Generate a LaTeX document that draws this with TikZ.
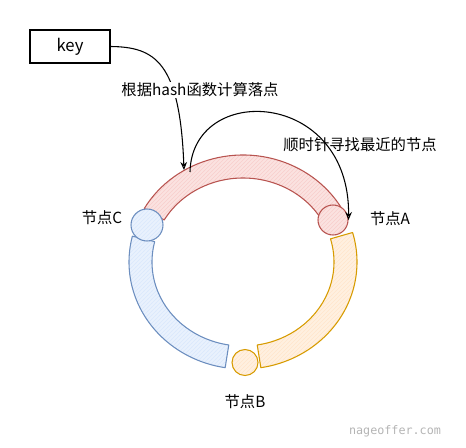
\documentclass[tikz,border=0pt]{standalone}
\usepackage{fontspec}
\setmainfont{Noto Sans CJK SC}
\setmonofont{DejaVu Sans Mono}
\usetikzlibrary{arrows.meta,calc,patterns}
\definecolor{redline}{HTML}{B85450}
\definecolor{redfill}{HTML}{F8CECC}
\definecolor{yellowline}{HTML}{D79B00}
\definecolor{yellowfill}{HTML}{FFE6CC}
\definecolor{blueline}{HTML}{6C8EBF}
\definecolor{bluefill}{HTML}{DAE8FC}
\definecolor{marktext}{HTML}{B4B4B4}

\begin{document}
\begin{tikzpicture}[
    x=0.75pt, y=0.75pt,
    every node/.style={font=\fontsize{11.5}{13}\selectfont},
    keybox/.style={rectangle, draw, line width=1.1pt, minimum width=60pt, minimum height=24.75pt},
    band/.style={draw=#1line, thick, line join=round, preaction={fill=#1fill!60}, pattern=north east lines, pattern color=#1fill},
    peer/.style={circle, draw=#1line, thick, minimum size=22.5pt, inner sep=0pt, preaction={fill=#1fill!60}, pattern=north east lines, pattern color=#1fill},
    hop/.style={draw, thick, -{Stealth[open, length=6pt, width=5pt]}},
    tag/.style={inner sep=1pt}
]
    \useasboundingbox (0,0) rectangle (466,447);

    % Ring centre
    \coordinate (O) at (243,185);

    % Ring segments
    \draw[band=red] ($(O)+(150:114 and 107)$) arc[start angle=150, end angle=28, x radius=114, y radius=107]
        -- ($(O)+(28:91 and 84)$) arc[start angle=28, end angle=150, x radius=91, y radius=84] -- cycle;
    \draw[band=yellow] ($(O)+(16:114 and 107)$) arc[start angle=16, end angle=-81, x radius=114, y radius=107]
        -- ($(O)+(-81:91 and 84)$) arc[start angle=-81, end angle=16, x radius=91, y radius=84] -- cycle;
    \draw[band=blue] ($(O)+(166:114 and 107)$) arc[start angle=166, end angle=261, x radius=114, y radius=107]
        -- ($(O)+(261:91 and 84)$) arc[start angle=261, end angle=166, x radius=91, y radius=84] -- cycle;

    % Nodes on the ring
    \node[peer=red] (peerA) at (333,227) {};
    \node[peer=yellow, minimum size=19.5pt] (peerB) at (245,84.5) {};
    \node[peer=blue, minimum size=24pt] (peerC) at (147,222) {};

    \node[tag] (tagA) at (390,228) {节点A};
    \node[tag] (tagB) at (245,45) {节点B};
    \node[tag] (tagC) at (102,229) {节点C};

    % Key and hashing
    \node[keybox, font=\fontsize{12.5}{14}\selectfont] (key) at (70,400.5) {key};
    \coordinate (landing) at (184,277);
    \coordinate (walk) at (190,275);

    \draw[hop] (key.east) .. controls (155,400) and (180,385) .. (landing);
    \node[tag, fill=white] (hashlbl) at (200,357) {根据hash函数计算落点};

    % Clockwise lookup
    \draw[hop] (walk) .. controls (192,365) and (350,358) .. (peerA.east);
    \node[tag] (seeklbl) at (360,302) {顺时针寻找最近的节点};

    % Watermark
    \node[tag, text=marktext, font=\ttfamily\fontsize{8.8}{10}\selectfont] (mark) at (395,16) {nageoffer.com};
\end{tikzpicture}
\end{document}
